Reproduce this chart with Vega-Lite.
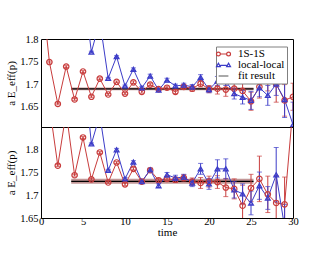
{
  "$schema": "https://vega.github.io/schema/vega-lite/v6.json",
  "padding": {"left": 5, "top": 33, "right": 5, "bottom": 5},
  "spacing": 0,
  "bounds": "flush",
  "config": {
    "view": {"stroke": "black", "strokeWidth": 1},
    "font": "Liberation Serif",
    "axis": {"domain": false, "grid": false, "tickColor": "black", "tickSize": 0, "labelFont": "Liberation Serif", "labelFontSize": 10.5, "labelColor": "black", "titleFont": "Liberation Serif", "titleFontSize": 11, "titleFontWeight": "normal", "titleColor": "black", "labelOverlap": false, "labelFlush": false}
  },
  "datasets": {
    "topPts": [
      {"series": "1S-1S", "t": 0, "v": 1.925, "e": 0},
      {"series": "1S-1S", "t": 1, "v": 1.749, "e": 0.002},
      {"series": "1S-1S", "t": 2, "v": 1.656, "e": 0.002},
      {"series": "1S-1S", "t": 3, "v": 1.739, "e": 0.002},
      {"series": "1S-1S", "t": 4, "v": 1.666, "e": 0.002},
      {"series": "1S-1S", "t": 5, "v": 1.728, "e": 0.002},
      {"series": "1S-1S", "t": 6, "v": 1.672, "e": 0.002},
      {"series": "1S-1S", "t": 7, "v": 1.712, "e": 0.002},
      {"series": "1S-1S", "t": 8, "v": 1.677, "e": 0.002},
      {"series": "1S-1S", "t": 9, "v": 1.705, "e": 0.002},
      {"series": "1S-1S", "t": 10, "v": 1.679, "e": 0.002},
      {"series": "1S-1S", "t": 11, "v": 1.704, "e": 0.003},
      {"series": "1S-1S", "t": 12, "v": 1.683, "e": 0.003},
      {"series": "1S-1S", "t": 13, "v": 1.699, "e": 0.003},
      {"series": "1S-1S", "t": 14, "v": 1.689, "e": 0.003},
      {"series": "1S-1S", "t": 15, "v": 1.692, "e": 0.004},
      {"series": "1S-1S", "t": 16, "v": 1.683, "e": 0.004},
      {"series": "1S-1S", "t": 17, "v": 1.694, "e": 0.005},
      {"series": "1S-1S", "t": 18, "v": 1.690, "e": 0.006},
      {"series": "1S-1S", "t": 19, "v": 1.701, "e": 0.007},
      {"series": "1S-1S", "t": 20, "v": 1.689, "e": 0.008},
      {"series": "1S-1S", "t": 21, "v": 1.690, "e": 0.012},
      {"series": "1S-1S", "t": 22, "v": 1.688, "e": 0.015},
      {"series": "1S-1S", "t": 23, "v": 1.690, "e": 0.015},
      {"series": "1S-1S", "t": 24, "v": 1.685, "e": 0.018},
      {"series": "1S-1S", "t": 25, "v": 1.662, "e": 0.02},
      {"series": "1S-1S", "t": 26, "v": 1.694, "e": 0.025},
      {"series": "1S-1S", "t": 27, "v": 1.725, "e": 0.04},
      {"series": "1S-1S", "t": 28, "v": 1.700, "e": 0.04},
      {"series": "1S-1S", "t": 29, "v": 1.664, "e": 0.035},
      {"series": "1S-1S", "t": 30, "v": 1.672, "e": 0.03},
      {"series": "local-local", "t": 5, "v": 1.92, "e": 0},
      {"series": "local-local", "t": 6, "v": 1.771, "e": 0.002},
      {"series": "local-local", "t": 7, "v": 1.84, "e": 0},
      {"series": "local-local", "t": 8, "v": 1.713, "e": 0.002},
      {"series": "local-local", "t": 9, "v": 1.761, "e": 0.002},
      {"series": "local-local", "t": 10, "v": 1.696, "e": 0.002},
      {"series": "local-local", "t": 11, "v": 1.733, "e": 0.003},
      {"series": "local-local", "t": 12, "v": 1.692, "e": 0.003},
      {"series": "local-local", "t": 13, "v": 1.718, "e": 0.004},
      {"series": "local-local", "t": 14, "v": 1.687, "e": 0.003},
      {"series": "local-local", "t": 15, "v": 1.709, "e": 0.004},
      {"series": "local-local", "t": 16, "v": 1.696, "e": 0.004},
      {"series": "local-local", "t": 17, "v": 1.698, "e": 0.004},
      {"series": "local-local", "t": 18, "v": 1.694, "e": 0.005},
      {"series": "local-local", "t": 19, "v": 1.715, "e": 0.006},
      {"series": "local-local", "t": 20, "v": 1.688, "e": 0.007},
      {"series": "local-local", "t": 21, "v": 1.707, "e": 0.01},
      {"series": "local-local", "t": 22, "v": 1.707, "e": 0.01},
      {"series": "local-local", "t": 23, "v": 1.679, "e": 0.012},
      {"series": "local-local", "t": 24, "v": 1.671, "e": 0.015},
      {"series": "local-local", "t": 25, "v": 1.664, "e": 0.02},
      {"series": "local-local", "t": 26, "v": 1.692, "e": 0.02},
      {"series": "local-local", "t": 27, "v": 1.675, "e": 0.022},
      {"series": "local-local", "t": 28, "v": 1.700, "e": 0.025},
      {"series": "local-local", "t": 29, "v": 1.666, "e": 0.04},
      {"series": "local-local", "t": 30, "v": 1.61, "e": 0.05}
    ],
    "botPts": [
      {"series": "1S-1S", "t": 1, "v": 1.897, "e": 0},
      {"series": "1S-1S", "t": 2, "v": 1.765, "e": 0.002},
      {"series": "1S-1S", "t": 3, "v": 1.883, "e": 0},
      {"series": "1S-1S", "t": 4, "v": 1.744, "e": 0.002},
      {"series": "1S-1S", "t": 5, "v": 1.827, "e": 0.002},
      {"series": "1S-1S", "t": 6, "v": 1.735, "e": 0.002},
      {"series": "1S-1S", "t": 7, "v": 1.794, "e": 0.002},
      {"series": "1S-1S", "t": 8, "v": 1.728, "e": 0.002},
      {"series": "1S-1S", "t": 9, "v": 1.772, "e": 0.002},
      {"series": "1S-1S", "t": 10, "v": 1.724, "e": 0.003},
      {"series": "1S-1S", "t": 11, "v": 1.758, "e": 0.003},
      {"series": "1S-1S", "t": 12, "v": 1.730, "e": 0.003},
      {"series": "1S-1S", "t": 13, "v": 1.755, "e": 0.003},
      {"series": "1S-1S", "t": 14, "v": 1.733, "e": 0.004},
      {"series": "1S-1S", "t": 15, "v": 1.736, "e": 0.005},
      {"series": "1S-1S", "t": 16, "v": 1.734, "e": 0.006},
      {"series": "1S-1S", "t": 17, "v": 1.738, "e": 0.007},
      {"series": "1S-1S", "t": 18, "v": 1.730, "e": 0.008},
      {"series": "1S-1S", "t": 19, "v": 1.727, "e": 0.012},
      {"series": "1S-1S", "t": 20, "v": 1.730, "e": 0.012},
      {"series": "1S-1S", "t": 21, "v": 1.729, "e": 0.014},
      {"series": "1S-1S", "t": 22, "v": 1.717, "e": 0.02},
      {"series": "1S-1S", "t": 23, "v": 1.714, "e": 0.022},
      {"series": "1S-1S", "t": 24, "v": 1.677, "e": 0.045},
      {"series": "1S-1S", "t": 25, "v": 1.716, "e": 0.03},
      {"series": "1S-1S", "t": 26, "v": 1.736, "e": 0.05},
      {"series": "1S-1S", "t": 27, "v": 1.702, "e": 0.04},
      {"series": "1S-1S", "t": 28, "v": 1.683, "e": 0.06},
      {"series": "1S-1S", "t": 29, "v": 1.680, "e": 0.06},
      {"series": "1S-1S", "t": 30, "v": 1.894, "e": 0},
      {"series": "local-local", "t": 5, "v": 2.0, "e": 0},
      {"series": "local-local", "t": 6, "v": 1.813, "e": 0.002},
      {"series": "local-local", "t": 7, "v": 1.876, "e": 0},
      {"series": "local-local", "t": 8, "v": 1.755, "e": 0.002},
      {"series": "local-local", "t": 9, "v": 1.800, "e": 0.003},
      {"series": "local-local", "t": 10, "v": 1.736, "e": 0.003},
      {"series": "local-local", "t": 11, "v": 1.773, "e": 0.003},
      {"series": "local-local", "t": 12, "v": 1.730, "e": 0.003},
      {"series": "local-local", "t": 13, "v": 1.756, "e": 0.004},
      {"series": "local-local", "t": 14, "v": 1.721, "e": 0.004},
      {"series": "local-local", "t": 15, "v": 1.745, "e": 0.005},
      {"series": "local-local", "t": 16, "v": 1.738, "e": 0.006},
      {"series": "local-local", "t": 17, "v": 1.740, "e": 0.006},
      {"series": "local-local", "t": 18, "v": 1.727, "e": 0.008},
      {"series": "local-local", "t": 19, "v": 1.758, "e": 0.012},
      {"series": "local-local", "t": 20, "v": 1.725, "e": 0.012},
      {"series": "local-local", "t": 21, "v": 1.758, "e": 0.02},
      {"series": "local-local", "t": 22, "v": 1.758, "e": 0.022},
      {"series": "local-local", "t": 23, "v": 1.712, "e": 0.018},
      {"series": "local-local", "t": 24, "v": 1.703, "e": 0.022},
      {"series": "local-local", "t": 25, "v": 1.683, "e": 0.026},
      {"series": "local-local", "t": 26, "v": 1.721, "e": 0.03},
      {"series": "local-local", "t": 27, "v": 1.694, "e": 0.025},
      {"series": "local-local", "t": 28, "v": 1.745, "e": 0.06},
      {"series": "local-local", "t": 29, "v": 1.63, "e": 0.05}
    ],
    "topFit": [{"t0": 3.6, "t1": 25.3, "v": 1.6895, "lo": 1.6865, "hi": 1.6925}],
    "botFit": [{"t0": 3.6, "t1": 25.3, "v": 1.7307, "lo": 1.7255, "hi": 1.736}]
  },
  "vconcat": [
    {
      "width": 252,
      "height": 88,
      "resolve": {"axis": {"x": "independent", "y": "independent"}},
      "layer": [
        {
          "data": {"name": "topFit"},
          "mark": {"type": "rect", "color": "#b98585", "opacity": 0.85},
          "encoding": {
            "x": {"field": "t0", "type": "quantitative", "scale": {"domain": [0, 30], "nice": false},
              "axis": {"orient": "bottom", "values": [0,1,2,3,4,5,6,7,8,9,10,11,12,13,14,15,16,17,18,19,20,21,22,23,24,25,26,27,28,29,30], "labels": false, "title": null,
                "encode": {"ticks": {"update": {"y2": {"signal": "datum.value % 5 === 0 ? -5 : -2.5"}}}}}},
            "x2": {"field": "t1"},
            "y": {"field": "lo", "type": "quantitative", "scale": {"domain": [1.605, 1.8], "nice": false, "zero": false},
              "axis": {"orient": "left", "values": [1.61,1.62,1.63,1.64,1.65,1.66,1.67,1.68,1.69,1.7,1.71,1.72,1.73,1.74,1.75,1.76,1.77,1.78,1.79,1.8],
                "labelExpr": "abs(datum.value*20-round(datum.value*20))<0.001 ? ('' + datum.value) : ''",
                "labelPadding": 3, "title": "a E_eff(p)", "titlePadding": 3,
                "encode": {"ticks": {"update": {"x2": {"signal": "abs(datum.value*20-round(datum.value*20))<0.001 ? 5 : 2.5"}}}}}},
            "y2": {"field": "hi"}
          }
        },
        {
          "data": {"name": "topFit"},
          "mark": {"type": "rule", "color": "black", "strokeWidth": 1.3},
          "encoding": {
            "x": {"field": "t0", "type": "quantitative", "axis": null},
            "x2": {"field": "t1"},
            "y": {"field": "v", "type": "quantitative", "axis": null}
          }
        },
        {
          "data": {"name": "topPts"},
          "transform": [{"filter": "datum.series === '1S-1S'"}],
          "mark": {"type": "errorbar", "ticks": true, "size": 5, "thickness": 1, "color": "#c83c3c", "clip": true},
          "encoding": {
            "x": {"field": "t", "type": "quantitative", "axis": null},
            "y": {"field": "v", "type": "quantitative", "axis": null},
            "yError": {"field": "e"}
          }
        },
        {
          "data": {"name": "topPts"},
          "transform": [{"filter": "datum.series === 'local-local'"}],
          "mark": {"type": "errorbar", "ticks": true, "size": 5, "thickness": 1, "color": "#3c3cc8", "clip": true},
          "encoding": {
            "x": {"field": "t", "type": "quantitative", "axis": null},
            "y": {"field": "v", "type": "quantitative", "axis": null},
            "yError": {"field": "e"}
          }
        },
        {
          "data": {"name": "topPts"},
          "transform": [{"filter": "datum.series === '1S-1S'"}],
          "mark": {"type": "line", "strokeWidth": 1, "color": "#c83c3c", "clip": true},
          "encoding": {
            "x": {"field": "t", "type": "quantitative", "axis": null},
            "y": {"field": "v", "type": "quantitative", "axis": null}
          }
        },
        {
          "data": {"name": "topPts"},
          "transform": [{"filter": "datum.series === 'local-local'"}],
          "mark": {"type": "line", "strokeWidth": 1, "color": "#3c3cc8", "clip": true},
          "encoding": {
            "x": {"field": "t", "type": "quantitative", "axis": null},
            "y": {"field": "v", "type": "quantitative", "axis": null}
          }
        },
        {
          "data": {"name": "topPts"},
          "transform": [{"filter": "datum.series === '1S-1S'"}],
          "mark": {"type": "point", "shape": "circle", "filled": false, "size": 30, "strokeWidth": 1.2, "opacity": 1, "color": "#c83c3c", "clip": true},
          "encoding": {
            "x": {"field": "t", "type": "quantitative", "axis": null},
            "y": {"field": "v", "type": "quantitative", "axis": null}
          }
        },
        {
          "data": {"name": "topPts"},
          "transform": [{"filter": "datum.series === 'local-local'"}],
          "mark": {"type": "point", "shape": "triangle-up", "filled": false, "size": 22, "strokeWidth": 1.3, "opacity": 1, "color": "#3c3cc8", "clip": true},
          "encoding": {
            "x": {"field": "t", "type": "quantitative", "axis": null},
            "y": {"field": "v", "type": "quantitative", "axis": null}
          }
        },
        {
          "data": {"name": "topPts"},
          "transform": [{"filter": "datum.t < -1"}],
          "mark": {"type": "point", "filled": false, "strokeWidth": 1.2, "opacity": 1},
          "encoding": {
            "x": {"field": "t", "type": "quantitative", "axis": null},
            "y": {"field": "v", "type": "quantitative", "axis": null},
            "color": {"field": "series", "type": "nominal", "scale": {"domain": ["1S-1S", "local-local", "fit result"], "range": ["#c83c3c", "#3c3cc8", "#707070"]},
              "legend": {"orient": "none", "legendX": 175, "legendY": 7.5, "title": null, "fillColor": "white", "strokeColor": "#808080", "padding": 2,
                "labelFont": "Liberation Serif", "labelFontSize": 11, "labelColor": "black", "symbolSize": 49, "symbolStrokeWidth": 1.2, "labelOffset": 9, "rowPadding": -4, "symbolFillColor": "transparent"}},
            "shape": {"field": "series", "type": "nominal", "scale": {"domain": ["1S-1S", "local-local", "fit result"],
              "range": ["M-2,0A0.55,0.55 0 1,0 -0.9,0A0.55,0.55 0 1,0 -2,0Z M-0.9,0L0.9,0 M0.9,0A0.55,0.55 0 1,0 2,0A0.55,0.55 0 1,0 0.9,0Z", "M-2,0.45L-1.45,-0.5L-0.9,0.45Z M-0.9,0.1L0.9,0.1 M0.9,0.45L1.45,-0.5L2,0.45Z", "M-1.4,0L1.4,0"]}}
          }
        },
        {
          "data": {"name": "topFit"},
          "mark": {"type": "rule", "opacity": 0},
          "encoding": {
            "x": {"field": "t0", "type": "quantitative",
              "axis": {"orient": "top", "values": [0,1,2,3,4,5,6,7,8,9,10,11,12,13,14,15,16,17,18,19,20,21,22,23,24,25,26,27,28,29,30], "labels": false, "title": null,
                "encode": {"ticks": {"update": {"y2": {"signal": "datum.value % 5 === 0 ? 5 : 2.5"}}}}}},
            "x2": {"field": "t1"},
            "y": {"field": "v", "type": "quantitative",
              "axis": {"orient": "right", "values": [1.61,1.62,1.63,1.64,1.65,1.66,1.67,1.68,1.69,1.7,1.71,1.72,1.73,1.74,1.75,1.76,1.77,1.78,1.79,1.8], "labels": false, "title": null,
                "encode": {"ticks": {"update": {"x2": {"signal": "abs(datum.value*20-round(datum.value*20))<0.001 ? -5 : -2.5"}}}}}}
          }
        }
      ]
    },
    {
      "width": 252,
      "height": 91,
      "resolve": {"axis": {"x": "independent", "y": "independent"}},
      "layer": [
        {
          "data": {"name": "botFit"},
          "mark": {"type": "rect", "color": "#b98585", "opacity": 0.85},
          "encoding": {
            "x": {"field": "t0", "type": "quantitative", "scale": {"domain": [0, 30], "nice": false},
              "axis": {"orient": "bottom", "values": [0,1,2,3,4,5,6,7,8,9,10,11,12,13,14,15,16,17,18,19,20,21,22,23,24,25,26,27,28,29,30],
                "labelExpr": "datum.value % 5 === 0 ? ('' + datum.value) : ''", "labelPadding": -2, "title": "time", "titlePadding": 0,
                "encode": {"ticks": {"update": {"y2": {"signal": "datum.value % 5 === 0 ? -5 : -2.5"}}}}}},
            "x2": {"field": "t1"},
            "y": {"field": "lo", "type": "quantitative", "scale": {"domain": [1.65, 1.85], "nice": false, "zero": false},
              "axis": {"orient": "left", "values": [1.65,1.66,1.67,1.68,1.69,1.7,1.71,1.72,1.73,1.74,1.75,1.76,1.77,1.78,1.79,1.8,1.81,1.82,1.83,1.84],
                "labelExpr": "abs(datum.value*20-round(datum.value*20))<0.001 ? ('' + datum.value) : ''",
                "labelPadding": 3, "title": "a E_eff(p)", "titlePadding": 3,
                "encode": {"ticks": {"update": {"x2": {"signal": "abs(datum.value*20-round(datum.value*20))<0.001 ? 5 : 2.5"}}}}}},
            "y2": {"field": "hi"}
          }
        },
        {
          "data": {"name": "botFit"},
          "mark": {"type": "rule", "color": "black", "strokeWidth": 1.3},
          "encoding": {
            "x": {"field": "t0", "type": "quantitative", "axis": null},
            "x2": {"field": "t1"},
            "y": {"field": "v", "type": "quantitative", "axis": null}
          }
        },
        {
          "data": {"name": "botPts"},
          "transform": [{"filter": "datum.series === '1S-1S'"}],
          "mark": {"type": "errorbar", "ticks": true, "size": 5, "thickness": 1, "color": "#c83c3c", "clip": true},
          "encoding": {
            "x": {"field": "t", "type": "quantitative", "axis": null},
            "y": {"field": "v", "type": "quantitative", "axis": null},
            "yError": {"field": "e"}
          }
        },
        {
          "data": {"name": "botPts"},
          "transform": [{"filter": "datum.series === 'local-local'"}],
          "mark": {"type": "errorbar", "ticks": true, "size": 5, "thickness": 1, "color": "#3c3cc8", "clip": true},
          "encoding": {
            "x": {"field": "t", "type": "quantitative", "axis": null},
            "y": {"field": "v", "type": "quantitative", "axis": null},
            "yError": {"field": "e"}
          }
        },
        {
          "data": {"name": "botPts"},
          "transform": [{"filter": "datum.series === '1S-1S'"}],
          "mark": {"type": "line", "strokeWidth": 1, "color": "#c83c3c", "clip": true},
          "encoding": {
            "x": {"field": "t", "type": "quantitative", "axis": null},
            "y": {"field": "v", "type": "quantitative", "axis": null}
          }
        },
        {
          "data": {"name": "botPts"},
          "transform": [{"filter": "datum.series === 'local-local'"}],
          "mark": {"type": "line", "strokeWidth": 1, "color": "#3c3cc8", "clip": true},
          "encoding": {
            "x": {"field": "t", "type": "quantitative", "axis": null},
            "y": {"field": "v", "type": "quantitative", "axis": null}
          }
        },
        {
          "data": {"name": "botPts"},
          "transform": [{"filter": "datum.series === '1S-1S'"}],
          "mark": {"type": "point", "shape": "circle", "filled": false, "size": 30, "strokeWidth": 1.2, "opacity": 1, "color": "#c83c3c", "clip": true},
          "encoding": {
            "x": {"field": "t", "type": "quantitative", "axis": null},
            "y": {"field": "v", "type": "quantitative", "axis": null}
          }
        },
        {
          "data": {"name": "botPts"},
          "transform": [{"filter": "datum.series === 'local-local'"}],
          "mark": {"type": "point", "shape": "triangle-up", "filled": false, "size": 22, "strokeWidth": 1.3, "opacity": 1, "color": "#3c3cc8", "clip": true},
          "encoding": {
            "x": {"field": "t", "type": "quantitative", "axis": null},
            "y": {"field": "v", "type": "quantitative", "axis": null}
          }
        },
        {
          "data": {"name": "botFit"},
          "mark": {"type": "rule", "opacity": 0},
          "encoding": {
            "x": {"field": "t0", "type": "quantitative",
              "axis": {"orient": "top", "values": [0,1,2,3,4,5,6,7,8,9,10,11,12,13,14,15,16,17,18,19,20,21,22,23,24,25,26,27,28,29,30], "labels": false, "title": null,
                "encode": {"ticks": {"update": {"y2": {"signal": "datum.value % 5 === 0 ? 5 : 2.5"}}}}}},
            "x2": {"field": "t1"},
            "y": {"field": "v", "type": "quantitative",
              "axis": {"orient": "right", "values": [1.65,1.66,1.67,1.68,1.69,1.7,1.71,1.72,1.73,1.74,1.75,1.76,1.77,1.78,1.79,1.8,1.81,1.82,1.83,1.84], "labels": false, "title": null,
                "encode": {"ticks": {"update": {"x2": {"signal": "abs(datum.value*20-round(datum.value*20))<0.001 ? -5 : -2.5"}}}}}}
          }
        }
      ]
    }
  ]
}
